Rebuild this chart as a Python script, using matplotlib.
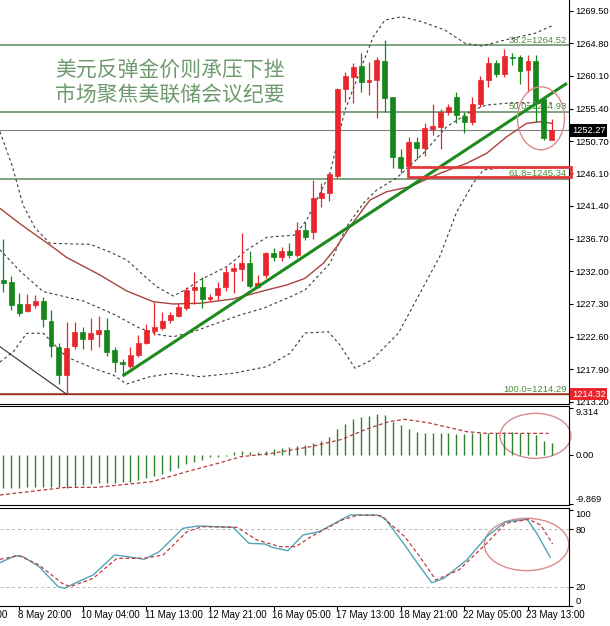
import matplotlib
matplotlib.use('Agg')
import matplotlib.pyplot as plt
import matplotlib.transforms as mtransforms
from matplotlib.patches import Rectangle, Ellipse

plt.rcParams['font.family'] = ['Liberation Sans', 'DejaVu Sans']

# H4 candles, red = up bar, green = down bar
opens = [1230.75, 1230.50, 1227.25, 1226.29, 1227.15, 1227.73, 1224.89, 1221.15, 1217.08, 1221.30,
         1223.31, 1222.26, 1222.94, 1223.51, 1220.68, 1219.00, 1218.42, 1219.96, 1221.64, 1223.46,
         1223.80, 1224.99, 1225.57, 1226.68, 1229.31, 1229.79, 1227.97, 1228.59, 1229.70, 1232.04,
         1232.29, 1233.24, 1229.79, 1231.47, 1234.68, 1234.01, 1234.96, 1234.35, 1237.94, 1237.70,
         1242.50, 1243.22, 1245.75, 1258.18, 1260.02, 1261.49, 1259.28, 1259.45, 1262.25, 1257.03,
         1248.49, 1247.19, 1250.56, 1249.70, 1252.43, 1252.80, 1254.87, 1257.03, 1254.39, 1253.52,
         1256.07, 1259.52, 1262.01, 1260.38, 1262.79, 1262.79, 1260.96, 1262.30, 1256.74, 1250.89]
highs = [1236.65, 1231.37, 1228.84, 1228.69, 1228.59, 1228.35, 1226.43, 1221.64, 1224.66, 1224.66,
         1224.03, 1225.33, 1225.61, 1225.33, 1221.15, 1219.38, 1221.15, 1222.84, 1224.42, 1227.63,
         1226.19, 1226.19, 1227.40, 1229.70, 1231.94, 1231.14, 1228.74, 1230.50, 1232.66, 1233.15,
         1237.47, 1234.96, 1231.47, 1234.82, 1235.31, 1235.54, 1236.12, 1239.14, 1239.09, 1245.14,
         1244.75, 1246.33, 1258.33, 1260.72, 1261.92, 1263.36, 1262.15, 1262.79, 1265.28, 1257.12,
         1249.59, 1251.28, 1251.36, 1253.29, 1256.07, 1255.31, 1256.07, 1257.84, 1254.92, 1257.03,
         1260.10, 1262.79, 1262.40, 1263.94, 1263.36, 1263.12, 1263.12, 1263.12, 1257.12, 1253.87]
lows = [1229.07, 1226.43, 1225.57, 1226.10, 1226.68, 1224.03, 1219.72, 1215.74, 1214.29, 1220.82,
        1220.82, 1220.68, 1221.15, 1219.86, 1217.56, 1217.20, 1218.05, 1219.72, 1221.54, 1222.84,
        1223.56, 1224.61, 1225.38, 1226.43, 1227.30, 1226.68, 1227.77, 1227.87, 1229.21, 1228.84,
        1230.61, 1229.55, 1229.55, 1230.99, 1233.53, 1233.53, 1233.87, 1234.01, 1236.50, 1236.60,
        1241.29, 1242.16, 1245.38, 1256.40, 1256.26, 1257.84, 1257.36, 1254.01, 1254.96, 1246.86,
        1246.10, 1247.01, 1248.11, 1248.59, 1251.61, 1249.55, 1254.49, 1253.29, 1251.94, 1253.05,
        1255.59, 1258.47, 1259.91, 1259.91, 1261.68, 1258.95, 1257.84, 1253.52, 1250.89, 1250.82]
closes = [1230.27, 1227.15, 1225.96, 1227.25, 1227.73, 1225.14, 1221.30, 1217.08, 1221.01, 1223.31,
          1222.26, 1223.08, 1223.56, 1220.35, 1218.91, 1218.62, 1219.96, 1221.64, 1223.56, 1223.94,
          1224.89, 1225.71, 1226.82, 1229.31, 1229.70, 1227.97, 1228.35, 1229.55, 1231.94, 1232.43,
          1233.15, 1229.84, 1230.32, 1234.59, 1234.01, 1234.96, 1234.35, 1237.94, 1236.98, 1242.50,
          1243.22, 1245.96, 1258.18, 1260.10, 1261.35, 1259.28, 1259.52, 1262.33, 1256.97, 1248.44,
          1246.90, 1250.56, 1249.78, 1252.57, 1252.95, 1254.96, 1255.59, 1254.49, 1253.52, 1256.07,
          1259.52, 1262.01, 1260.38, 1262.97, 1262.64, 1260.86, 1262.30, 1256.54, 1251.13, 1252.27]

# bollinger bands and moving average, (bar, price)
bb_upper = [(-0.42, 1252.08), (1.09, 1247.29), (2.48, 1241.54), (3.99, 1238.23), (5.87, 1236.03),
            (10.91, 1235.88), (13.42, 1234.78), (15.52, 1233.63), (17.19, 1231.90), (19.30, 1229.79),
            (21.38, 1228.45), (23.07, 1229.45), (24.74, 1230.75), (28.10, 1232.66), (30.62, 1235.06),
            (33.13, 1236.89), (36.69, 1237.22), (38.16, 1239.38), (41.09, 1246.10), (42.98, 1255.21),
            (44.45, 1259.52), (45.71, 1263.36), (46.54, 1265.75), (48.01, 1268.15), (50.11, 1268.63),
            (52.63, 1267.91), (55.56, 1266.71), (58.08, 1264.80), (60.18, 1264.41), (63.11, 1265.28),
            (66.88, 1266.24), (68.98, 1267.29)]
bb_middle = [(-0.42, 1235.10), (2.10, 1232.04), (5.03, 1229.07), (10.06, 1227.73), (13.84, 1225.86),
             (17.19, 1223.80), (19.71, 1222.84), (21.38, 1222.59), (23.90, 1223.31), (26.84, 1224.52),
             (29.77, 1225.71), (32.70, 1226.68), (36.06, 1228.30), (37.95, 1229.31), (41.09, 1233.15),
             (43.19, 1238.42), (45.28, 1241.78), (46.97, 1243.70), (49.48, 1245.42), (52.83, 1248.98),
             (55.77, 1252.80), (59.12, 1255.21), (60.81, 1255.92), (64.15, 1256.26), (68.98, 1256.21)]
bb_lower = [(-0.42, 1218.95), (1.26, 1220.43), (2.94, 1223.08), (5.03, 1223.08), (7.97, 1219.67),
            (11.32, 1218.05), (13.84, 1217.08), (15.52, 1215.79), (18.45, 1216.84), (21.38, 1217.33),
            (24.74, 1216.84), (28.93, 1217.33), (33.13, 1218.28), (36.06, 1220.20), (37.95, 1223.12),
            (40.88, 1223.31), (42.35, 1221.40), (44.24, 1218.05), (46.34, 1219.24), (49.69, 1223.08),
            (52.63, 1229.31), (54.93, 1234.20), (57.03, 1240.53), (59.12, 1244.70), (60.38, 1246.57),
            (62.48, 1246.86), (68.98, 1246.86)]
ma_line = [(-0.42, 1241.06), (2.31, 1238.66), (5.87, 1235.78), (7.97, 1233.99), (12.16, 1231.47),
           (15.52, 1229.17), (18.87, 1227.63), (21.38, 1227.30), (24.74, 1227.40), (28.93, 1228.02),
           (33.13, 1229.31), (35.65, 1230.03), (37.95, 1230.99), (40.25, 1233.15), (41.94, 1235.54),
           (43.61, 1238.42), (46.13, 1242.26), (48.23, 1243.45), (51.16, 1244.17), (54.93, 1246.10),
           (58.29, 1247.54), (60.81, 1248.98), (63.32, 1251.36), (65.84, 1253.29), (67.51, 1253.52),
           (68.98, 1253.29)]

# drawn objects
trend_x = [15.0, 70.9]
trend_y = [1216.94, 1259.05]
fib_line_x = [-0.42, 8.0]
fib_line_y = [1221.15, 1214.29]
fib_levels = ['38.2', '50.0', '61.8', '100.0']
fib_prices = [1264.52, 1254.93, 1245.34, 1214.29]
last_price = 1252.27
alert_price = 1214.32
zone_low, zone_high = 1245.61, 1247.05

price_ticks = [1269.50, 1264.80, 1260.10, 1255.40, 1250.70, 1246.10, 1241.40,
               1236.70, 1232.00, 1227.30, 1222.60, 1217.90, 1213.20]
price_tick_labels = ['1269.50', '1264.80', '1260.10', '1255.40', '1250.70', '1246.10', '1241.40',
                     '1236.70', '1232.00', '1227.30', '1222.60', '1217.90', '1213.20']

# MACD histogram per bar and signal line
macd_hist = [-6.67, -6.67, -6.67, -6.47, -6.47, -6.33, -6.47, -6.47, -6.67, -6.2,
             -6.0, -5.8, -5.67, -5.67, -5.53, -5.33, -5.33, -5.0, -4.67, -4.2,
             -3.8, -3.13, -2.67, -1.8, -1.33, -1.0, -0.47, -0.33, -0.2, 0.67,
             0.87, 0.67, 0.67, 0.87, 1.13, 1.33, 1.53, 1.8, 2.0, 2.33,
             2.87, 3.53, 5.13, 6.2, 7.13, 7.67, 7.8, 8.2, 8.0, 6.67,
             6.0, 5.13, 4.67, 4.47, 4.47, 4.33, 4.33, 4.2, 4.2, 4.33,
             4.33, 4.47, 4.47, 4.53, 4.53, 4.47, 4.33, 4.0, 2.87, 2.33]
macd_signal = [(-0.42, -8.0), (7.9, -6.47), (11.8, -6.47), (18.7, -5.33), (23.1, -3.33),
               (27.0, -1.67), (29.9, -0.33), (33.8, 0.33), (38.7, 1.67), (42.6, 3.13),
               (45.6, 5.13), (48.5, 6.67), (50.5, 7.13), (53.4, 6.47), (58.3, 4.67),
               (60.8, 4.33), (68.6, 4.33)]

# stochastic %K and %D
stoch_k = [(-0.42, 45.0), (1.5, 52.4), (2.5, 51.3), (4.5, 40.9), (6.9, 20.0), (7.7, 18.3),
           (9.4, 25.2), (11.3, 32.2), (14.0, 53.1), (15.7, 51.3), (17.7, 48.6), (19.6, 56.5),
           (22.6, 81.0), (24.5, 83.4), (28.9, 82.0), (30.9, 65.3), (32.9, 64.6), (33.8, 61.1),
           (35.8, 57.6), (37.7, 74.0), (39.7, 77.4), (41.7, 86.2), (43.6, 94.9), (47.0, 94.9),
           (48.0, 91.4), (50.5, 63.5), (52.4, 40.9), (53.9, 24.1), (55.4, 28.7), (58.3, 47.9),
           (60.8, 72.2), (63.2, 87.9), (65.9, 90.4), (67.1, 75.8), (68.8, 50.7)]
stoch_d = [(-0.42, 48.6), (2.0, 52.4), (4.5, 42.6), (7.4, 23.5), (8.4, 20.0), (11.3, 28.7),
           (14.3, 49.6), (17.7, 49.6), (20.1, 53.1), (23.1, 77.4), (25.0, 82.7), (29.4, 82.0),
           (31.9, 68.8), (34.8, 61.8), (36.8, 61.8), (38.7, 72.2), (42.6, 89.7), (44.6, 94.9),
           (47.5, 94.2), (50.5, 72.2), (52.4, 51.3), (54.4, 27.0), (57.3, 37.4), (60.8, 65.3),
           (63.2, 86.2), (66.1, 90.4), (67.6, 84.4), (69.1, 64.6)]

time_labels = ['7 May 12:00', '8 May 20:00', '10 May 04:00', '11 May 13:00', '12 May 21:00',
               '16 May 05:00', '17 May 13:00', '18 May 21:00', '22 May 05:00', '23 May 13:00']
time_label_bars = [-6, 2, 10, 18, 26, 34, 42, 50, 58, 66]

UP = '#e8262b'
DOWN = '#17861b'
W, H = 610.0, 626.0


def box(x0, y0, x1, y1):
    return [x0 / W, 1 - y1 / H, (x1 - x0) / W, (y1 - y0) / H]


fig = plt.figure(figsize=(6.1, 6.26), dpi=100)
ax = fig.add_axes(box(0, 0, 569, 404))
ax_macd = fig.add_axes(box(0, 406, 569, 505))
ax_st = fig.add_axes(box(0, 508, 569, 606))

xmin, xmax = -0.415, 71.16
for a in (ax, ax_macd, ax_st):
    a.set_xlim(xmin, xmax)
    a.yaxis.tick_right()
    a.tick_params(axis='y', length=3, width=0.8, pad=1.5, labelsize=6.7, colors='black')
    a.spines['left'].set_visible(False)
    for s in ('right', 'bottom', 'top'):
        a.spines[s].set_linewidth(0.8)
        a.spines[s].set_color('black')
ax.spines['top'].set_visible(False)
ax.set_xticks([])
ax_macd.set_xticks([])

# ---- main price window ----
ax.set_ylim(1212.91, 1271.03)
ax.set_yticks(price_ticks)
ax.set_yticklabels(price_tick_labels)

for lvl, p in zip(fib_levels, fib_prices):
    col = '#9a3a2a' if lvl == '100.0' else '#5f8a5f'
    ax.axhline(p, color=col, lw=1.1, zorder=1)
    ax.text(70.9, p + 0.1, '%s=%.2f' % (lvl, p), ha='right', va='bottom',
            color='#4a8a3a', fontsize=6.8, zorder=2)
ax.axhline(alert_price, color='#a0301e', lw=1.0, zorder=1)
ax.axhline(last_price, color='#808080', lw=0.8, zorder=1)

dash = (0, (2.5, 2.5))
for band in (bb_upper, bb_middle, bb_lower):
    ax.plot([b[0] for b in band], [b[1] for b in band], color='#3c3c3c', lw=0.8, ls=dash, zorder=2)
ax.plot([m[0] for m in ma_line], [m[1] for m in ma_line], color='#a8443c', lw=1.0, zorder=3)

for i in range(len(opens)):
    o, h, l, c = opens[i], highs[i], lows[i], closes[i]
    col = UP if c >= o else DOWN
    ax.vlines(i, l, h, color=col, lw=0.9, zorder=4)
    ax.add_patch(Rectangle((i - 0.31, min(o, c)), 0.62, max(abs(c - o), 0.14),
                           facecolor=col, edgecolor=col, lw=0.5, zorder=5))

ax.plot(trend_x, trend_y, color='#1c8a1c', lw=2.2, zorder=6, solid_capstyle='butt')
ax.plot(fib_line_x, fib_line_y, color='#303030', lw=0.8, zorder=2)

ax.add_patch(Rectangle((50.9, zone_low), 20.55, zone_high - zone_low, fill=False,
                       edgecolor='#e2383a', lw=2.0, zorder=6, clip_on=False))
ax.add_patch(Ellipse((67.64, 1254.01), 5.91, 9.06, fill=False, edgecolor='#d98c8c',
                     lw=1.0, zorder=7))

ytr = mtransforms.blended_transform_factory(ax.transAxes, ax.transData)
ax.text(1.0 + 3 / 569, last_price, '1252.27', transform=ytr, ha='left', va='center',
        color='white', fontsize=6.7, zorder=10, clip_on=False,
        bbox=dict(boxstyle='square,pad=0.18', fc='black', ec='none'))
ax.text(1.0 + 3 / 569, alert_price, '1214.32', transform=ytr, ha='left', va='center',
        color='white', fontsize=6.7, zorder=10, clip_on=False,
        bbox=dict(boxstyle='square,pad=0.18', fc='#e8262b', ec='none'))

fig.text(55 / W, 1 - 71 / H, '美元反弹金价则承压下挫', fontsize=15, color='#6f9a6f',
         family=['Noto Sans CJK SC', 'DejaVu Sans'], ha='left', va='center')
fig.text(55 / W, 1 - 95 / H, '市场聚焦美联储会议纪要', fontsize=15, color='#6f9a6f',
         family=['Noto Sans CJK SC', 'DejaVu Sans'], ha='left', va='center')

# ---- MACD window ----
ax_macd.set_ylim(-10.0, 9.8)
ax_macd.vlines(range(len(macd_hist)), 0, macd_hist, color='#2f7f2f', lw=1.0)
ax_macd.plot([s[0] for s in macd_signal], [s[1] for s in macd_signal], color='#b33b3b',
             lw=0.9, ls=(0, (3, 2)))
ax_macd.set_yticks([9.314, 0.0, -9.869])
ax_macd.set_yticklabels(['9.314', '0.00', '-9.869'])
mlabels = ax_macd.get_yticklabels()
mlabels[0].set_va('top')
mlabels[2].set_va('bottom')
ax_macd.add_patch(Ellipse((66.94, 3.83), 8.93, 9.0, fill=False, edgecolor='#d98c8c',
                          lw=1.0, clip_on=False))

# ---- stochastic window ----
ax_st.set_ylim(-0.2, 102.2)
for lv in (80, 20):
    ax_st.axhline(lv, color='#b5b5b5', lw=0.7, ls=(0, (3, 3)))
ax_st.plot([s[0] for s in stoch_k], [s[1] for s in stoch_k], color='#4fa6b8', lw=1.0)
ax_st.plot([s[0] for s in stoch_d], [s[1] for s in stoch_d], color='#c03c3c', lw=0.9,
           ls=(0, (3, 2)))
ax_st.set_yticks([100, 80, 20, 0])
ax_st.set_yticklabels(['100', '80', '20', '0'])
slabels = ax_st.get_yticklabels()
slabels[0].set_va('top')
slabels[3].set_va('bottom')
ax_st.add_patch(Ellipse((65.82, 64.1), 10.62, 54.7, fill=False, edgecolor='#d98c8c',
                        lw=1.0, clip_on=False))

ax_st.set_xticks([b for b in time_label_bars if b >= xmin])
ax_st.set_xticklabels([])
ax_st.tick_params(axis='x', length=3, width=0.8)
xtr = mtransforms.blended_transform_factory(ax_st.transData, ax_st.transAxes)
for b, lab in zip(time_label_bars, time_labels):
    ax_st.text(b - 0.2, -0.04, lab, transform=xtr, ha='left', va='top', fontsize=7,
               clip_on=False)

fig.savefig('out.png', dpi=100, facecolor='white')
